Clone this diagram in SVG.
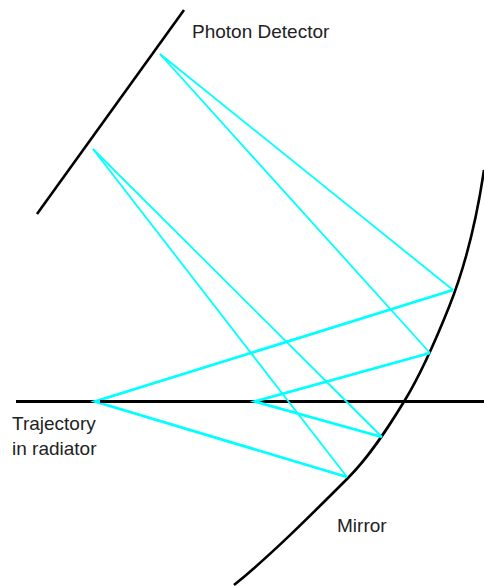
<svg xmlns="http://www.w3.org/2000/svg" width="484" height="586" viewBox="0 0 484 586">
<style>
.k{fill:none;stroke:#000;stroke-width:2.6}
.h{fill:none;stroke:#000;stroke-width:3}
.c{fill:none;stroke:#00ffff;stroke-width:1.8}
.d{fill:none;stroke:#00ffff;stroke-width:2.8}
.t{font-family:"Liberation Sans",Arial,sans-serif;font-size:19px;fill:#222}
</style>
<rect width="484" height="586" fill="#fff"/>
<g id="detector"><path class="k" d="M184 10L37 214"/></g>
<g id="mirror"><path class="k" d="M484 170C476 224 463 272 449 307C435 342 422 372 405 400C388 428 370 456 348 478C310 516 270 556 234 585"/></g>
<g id="trajectory"><path class="h" d="M16 401.5H484"/></g>
<g id="connectors">
<path class="c" d="M160 54L453 290"/>
<path class="c" d="M160 54L430 353"/>
<path class="c" d="M93 149L382 437"/>
<path class="c" d="M93 149L347 477"/>
<path class="d" d="M453 290L95 401.500L347 477"/>
<path class="d" d="M430 353L255 401.500L382 437"/>
<path class="h" d="M100 401.500H111M265 401.500H272"/>
</g>
<g id="labels">
<text class="t" x="192" y="38">Photon Detector</text>
<text class="t" x="12" y="430">Trajectory</text>
<text class="t" x="12" y="455">in radiator</text>
<text class="t" x="337" y="532">Mirror</text>
</g>
</svg>
